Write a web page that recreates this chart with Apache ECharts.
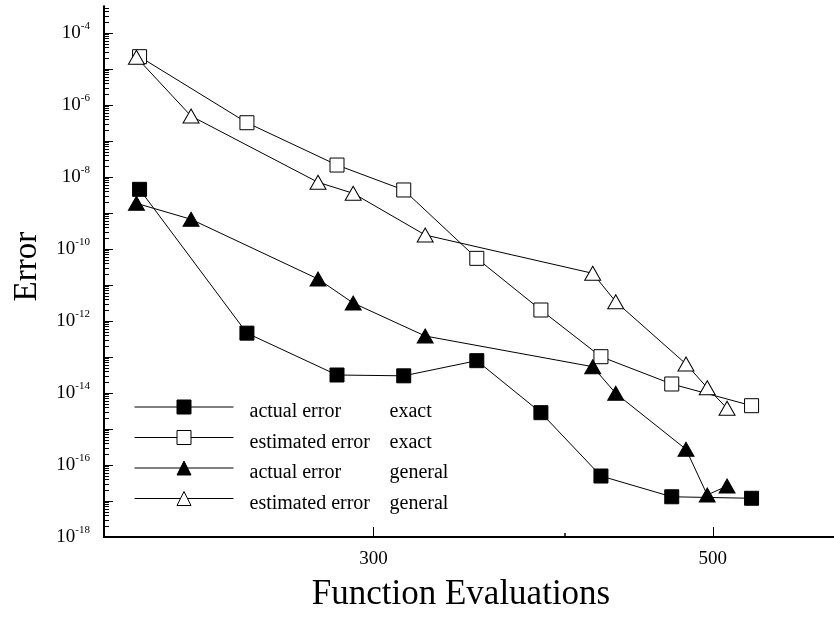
<!DOCTYPE html>
<html>
<head>
<meta charset="utf-8">
<script src="https://cdn.jsdelivr.net/npm/echarts@6/dist/echarts.min.js"></script>
<style>
  html, body { margin: 0; padding: 0; background: #fff; }
  #chart { width: 834px; height: 620px; }
</style>
</head>
<body>
<div id="chart"></div>
<script>
// Function evaluations per run
const evalsExact = [211, 248, 284, 314, 350.5, 386, 422.5, 470, 530];
const evalsGeneral = [210, 228, 276, 291, 324.3, 417.3, 432, 480.2, 495.8, 510.8];

// Error values per run
const actualErrorExact = [4.55e-9, 4.6e-13, 3.16e-14, 3.0e-14, 7.9e-14, 2.84e-15, 4.94e-17, 1.31e-17, 1.19e-17];
const estimatedErrorExact = [2.2e-5, 3.22e-7, 2.15e-8, 4.36e-9, 5.5e-11, 2.02e-12, 1.02e-13, 1.78e-14, 4.44e-15];
const actualErrorGeneral = [1.86e-9, 6.68e-10, 1.47e-11, 3.16e-12, 3.83e-13, 5.38e-14, 9.8e-15, 2.73e-16, 1.47e-17, 2.61e-17];
const estimatedErrorGeneral = [2.11e-5, 4.94e-7, 7.13e-9, 3.52e-9, 2.45e-10, 2.11e-11, 3.44e-12, 6.4e-14, 1.40e-14, 3.76e-15];

// Axis ticks and labels
const xLabelValues = [300, 500];
const xMinorTickValues = [400];
const yDecadeExponents = [-18, -17, -16, -15, -14, -13, -12, -11, -10, -9, -8, -7, -6, -5, -4];
const yLabelExponents = [-18, -16, -14, -12, -10, -8, -6, -4];

const Y_MIN = 1e-18, Y_MAX = 5.5e-4;
const X_MIN = 200, X_MAX = 600;

const yDecades = yDecadeExponents.map(e => Math.pow(10, e));
const yLabelValues = yLabelExponents.map(e => Math.pow(10, e));
const yMinorTicks = [];
yDecadeExponents.forEach(e => {
  for (let k = 2; k <= 9; k++) {
    const v = k * Math.pow(10, e);
    if (v <= Y_MAX) yMinorTicks.push(v);
  }
});

const FONT = 'Liberation Serif';
const zip = (xs, ys) => xs.map((x, i) => [x, ys[i]]);

const baseSeries = {
  type: 'line',
  lineStyle: { color: '#000', width: 1 },
  emphasis: { disabled: true },
  silent: true,
  animation: false
};

const option = {
  backgroundColor: '#fff',
  animation: false,
  grid: { left: 104, right: -6, top: 6.35, bottom: 83, containLabel: false },
  xAxis: [
    {
      type: 'log', min: X_MIN, max: X_MAX, position: 'bottom',
      axisLine: { onZero: false, lineStyle: { color: '#000', width: 2 } },
      axisTick: { inside: true, length: 10, customValues: xLabelValues, lineStyle: { color: '#000', width: 1 } },
      axisLabel: {
        customValues: xLabelValues, margin: 12,
        fontFamily: FONT, fontSize: 19, lineHeight: 20, color: '#000',
        formatter: v => String(Math.round(v))
      },
      splitLine: { show: false }, minorTick: { show: false },
      name: 'Function Evaluations', nameLocation: 'middle', nameGap: 40,
      nameTextStyle: { fontFamily: FONT, fontSize: 35, lineHeight: 35, color: '#000', padding: [0, 16, 0, 0] }
    },
    {
      type: 'log', min: X_MIN, max: X_MAX, position: 'bottom',
      axisLine: { show: false, onZero: false },
      axisTick: { inside: true, length: 4, customValues: xMinorTickValues, lineStyle: { color: '#000', width: 1.5 } },
      axisLabel: { show: false },
      splitLine: { show: false }
    }
  ],
  yAxis: [
    {
      type: 'log', min: Y_MIN, max: Y_MAX, position: 'left',
      axisLine: { onZero: false, lineStyle: { color: '#000', width: 2 } },
      axisTick: { inside: true, length: 9, customValues: yDecades, lineStyle: { color: '#000', width: 1 } },
      axisLabel: {
        customValues: yLabelValues, margin: 14, color: '#000',
        formatter: v => '{b|10}{s|' + Math.round(Math.log10(v)) + '}',
        rich: {
          b: { fontFamily: FONT, fontSize: 19, lineHeight: 24, color: '#000' },
          s: { fontFamily: FONT, fontSize: 11, lineHeight: 11, verticalAlign: 'top', color: '#000' }
        }
      },
      splitLine: { show: false }, minorTick: { show: false },
      name: 'Error', nameLocation: 'middle', nameGap: 60, nameRotate: 90,
      nameTextStyle: { fontFamily: FONT, fontSize: 33, lineHeight: 33, color: '#000', padding: [0, 0, 0, 10] }
    },
    {
      type: 'log', min: Y_MIN, max: Y_MAX, position: 'left',
      axisLine: { show: false, onZero: false },
      axisTick: { inside: true, length: 5, customValues: yMinorTicks, lineStyle: { color: '#000', width: 1 } },
      axisLabel: { show: false },
      splitLine: { show: false }
    }
  ],
  legend: {
    orient: 'vertical', left: 134, top: 392, padding: 0, itemGap: 0.5,
    itemWidth: 99, itemHeight: 17.5, selectedMode: false,
    lineStyle: { color: '#000', width: 1 },
    itemStyle: { borderColor: '#000', borderWidth: 1 },
    formatter: name => {
      const i = name.lastIndexOf(' ');
      return '{a|' + name.slice(0, i) + '}{b|' + name.slice(i + 1) + '}';
    },
    textStyle: {
      color: '#000',
      rich: {
        a: { fontFamily: FONT, fontSize: 20, lineHeight: 20, width: 140, padding: [10, 0, 0, 11], color: '#000' },
        b: { fontFamily: FONT, fontSize: 20, lineHeight: 20, padding: [10, 0, 0, 0], color: '#000' }
      }
    }
  },
  series: [
    Object.assign({}, baseSeries, {
      name: 'actual error exact', data: zip(evalsExact, actualErrorExact),
      symbol: 'rect', symbolSize: 14,
      itemStyle: { color: '#000', borderColor: '#000', borderWidth: 1 }
    }),
    Object.assign({}, baseSeries, {
      name: 'estimated error exact', data: zip(evalsExact, estimatedErrorExact),
      symbol: 'rect', symbolSize: 14,
      itemStyle: { color: '#fff', borderColor: '#000', borderWidth: 1 }
    }),
    Object.assign({}, baseSeries, {
      name: 'actual error general', data: zip(evalsGeneral, actualErrorGeneral),
      symbol: 'triangle', symbolSize: [16, 14],
      itemStyle: { color: '#000', borderColor: '#000', borderWidth: 1 }
    }),
    Object.assign({}, baseSeries, {
      name: 'estimated error general', data: zip(evalsGeneral, estimatedErrorGeneral),
      symbol: 'triangle', symbolSize: [16, 14],
      itemStyle: { color: '#fff', borderColor: '#000', borderWidth: 1 }
    })
  ]
};

const chart = echarts.init(document.getElementById('chart'), null, { renderer: 'canvas' });
chart.setOption(option);
</script>
</body>
</html>
